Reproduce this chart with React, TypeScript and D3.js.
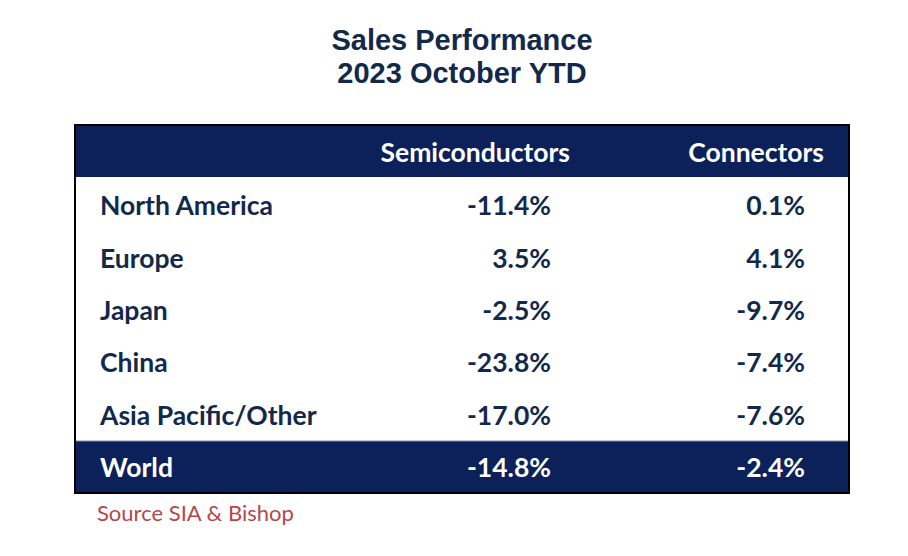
import React from "react";
import * as d3 from "d3";

const titleLines = ["Sales Performance", "2023 October YTD"];
const columns = ["Semiconductors", "Connectors"];
const regions = ["North America", "Europe", "Japan", "China", "Asia Pacific/Other"];
const semiconductors = [-11.4, 3.5, -2.5, -23.8, -17.0];
const connectors = [0.1, 4.1, -9.7, -7.4, -7.6];
const totalLabel = "World";
const totalValues = [-14.8, -2.4];
const sourceText = "Source SIA & Bishop";

const W = 908;
const H = 556;
const NAVY = "#0c2159";
const TEXT = "#13294b";
const FONT = "Lato, 'Open Sans', sans-serif";

export default function App() {
  const left = 75;
  const right = 849;
  const top = 125;
  const headerBottom = 177;
  const worldTop = 441;
  const bottom = 493;

  const rows = d3
    .scaleBand<string>()
    .domain(regions)
    .range([headerBottom + 2, worldTop])
    .paddingInner(0)
    .paddingOuter(0);

  const fmt = (v: number) => d3.format(".1f")(v).replace("\u2212", "-") + "%";
  const colRight = [551, 805];
  const headerRight = [570, 824];
  const labelX = 100;
  const fs = 26.5;

  return (
    <svg width={W} height={H} style={{ position: "absolute", left: 0, top: 0 }}>
      <rect x={0} y={0} width={W} height={H} fill="#ffffff" />
      {titleLines.map((t, i) => (
        <text
          key={t}
          x={462}
          y={40 + i * 33}
          textAnchor="middle"
          dominantBaseline="central"
          fontFamily="'Liberation Sans', Arial, sans-serif"
          fontWeight="bold"
          fontSize={29}
          fill={TEXT}
        >
          {t}
        </text>
      ))}
      <rect x={left} y={top} width={right - left} height={headerBottom - top} fill={NAVY} />
      <rect x={left} y={worldTop} width={right - left} height={bottom - worldTop} fill={NAVY} />
      <line x1={left} x2={right} y1={worldTop} y2={worldTop} stroke="#8a93a8" strokeWidth={1} />
      <rect
        x={left}
        y={top}
        width={right - left}
        height={bottom - top}
        fill="none"
        stroke="#000"
        strokeWidth={2}
      />
      {columns.map((c, i) => (
        <text
          key={c}
          x={headerRight[i]}
          y={(top + headerBottom) / 2 + 1}
          textAnchor="end"
          dominantBaseline="central"
          fontFamily={FONT}
          fontWeight="bold"
          fontSize={fs}
          fill="#fff"
        >
          {c}
        </text>
      ))}
      {regions.map((r, i) => {
        const cy = (rows(r) as number) + rows.bandwidth() / 2;
        return (
          <g key={r}>
            <text x={labelX} y={cy} dominantBaseline="central" fontFamily={FONT} fontWeight="bold" fontSize={fs} fill={TEXT}>
              {r}
            </text>
            <text x={colRight[0]} y={cy} textAnchor="end" dominantBaseline="central" fontFamily={FONT} fontWeight="bold" fontSize={fs} fill={TEXT}>
              {fmt(semiconductors[i])}
            </text>
            <text x={colRight[1]} y={cy} textAnchor="end" dominantBaseline="central" fontFamily={FONT} fontWeight="bold" fontSize={fs} fill={TEXT}>
              {fmt(connectors[i])}
            </text>
          </g>
        );
      })}
      <text x={labelX} y={(worldTop + bottom) / 2} dominantBaseline="central" fontFamily={FONT} fontWeight="bold" fontSize={fs} fill="#fff">
        {totalLabel}
      </text>
      {totalValues.map((v, i) => (
        <text
          key={i}
          x={colRight[i]}
          y={(worldTop + bottom) / 2}
          textAnchor="end"
          dominantBaseline="central"
          fontFamily={FONT}
          fontWeight="bold"
          fontSize={fs}
          fill="#fff"
        >
          {fmt(v)}
        </text>
      ))}
      <text x={97} y={512} dominantBaseline="central" fontFamily={FONT} fontSize={22} fill="#b5474b">
        {sourceText}
      </text>
    </svg>
  );
}
